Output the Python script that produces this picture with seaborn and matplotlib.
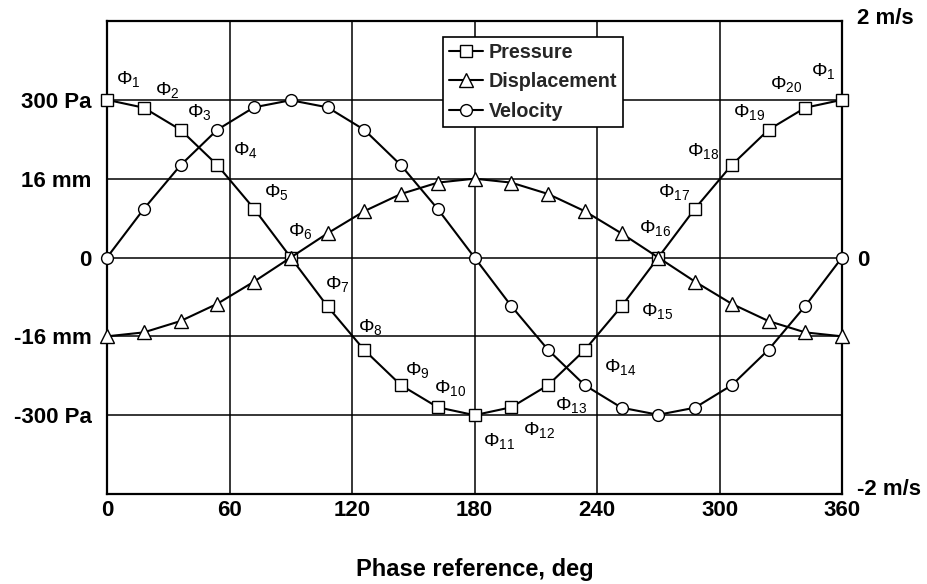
import matplotlib
matplotlib.use("Agg")
import matplotlib.pyplot as plt
import matplotlib.transforms as mtransforms
import pandas as pd
import seaborn as sns

# Phase angle of each sample point (deg)
phase_deg = [0, 18, 36, 54, 72, 90, 108, 126, 144, 162, 180,
             198, 216, 234, 252, 270, 288, 306, 324, 342, 360]

# Acoustic pressure (Pa)
pressure_pa = [300, 285, 243, 176, 93, 0, -93, -176, -243, -285, -300,
               -285, -243, -176, -93, 0, 93, 176, 243, 285, 300]

# Gas displacement (mm)
displacement_mm = [-16, -15.2, -12.9, -9.4, -4.9, 0, 4.9, 9.4, 12.9, 15.2, 16,
                   15.2, 12.9, 9.4, 4.9, 0, -4.9, -9.4, -12.9, -15.2, -16]

# Gas velocity (m/s)
velocity_ms = [0, 0.41, 0.78, 1.08, 1.27, 1.33, 1.27, 1.08, 0.78, 0.41, 0,
               -0.41, -0.78, -1.08, -1.27, -1.33, -1.27, -1.08, -0.78, -0.41, 0]

# One grid division in each physical unit
PA_PER_DIV = 150.0
MM_PER_DIV = 16.0
MS_PER_DIV = 2.0 / 3.0

left_tick_divs = [2, 1, 0, -1, -2]
left_tick_labels = ["300 Pa", "16 mm", "0", "-16 mm", "-300 Pa"]
right_tick_divs = [3, 0, -3]
right_tick_labels = ["2 m/s", "0", "-2 m/s"]
x_ticks = [0, 60, 120, 180, 240, 300, 360]

# Phase-point annotations: (text, x in deg, y in divisions)
phi_labels = [
    ("1", 4.4, 2.27), ("2", 23.5, 2.13), ("3", 39.2, 1.85), ("4", 61.7, 1.36),
    ("5", 76.9, 0.83), ("6", 88.6, 0.33), ("7", 106.8, -0.34), ("8", 122.9, -0.88),
    ("9", 145.9, -1.43), ("10", 160.2, -1.66), ("11", 184.2, -2.33),
    ("12", 203.8, -2.19), ("13", 219.4, -1.87), ("14", 243.4, -1.39),
    ("15", 261.5, -0.68), ("16", 260.6, 0.38), ("17", 269.9, 0.83),
    ("18", 284.1, 1.35), ("19", 306.6, 1.85), ("20", 324.8, 2.20), ("1", 344.8, 2.37),
]

sns.set_theme(style="white")
plt.rcParams["font.family"] = ["Liberation Sans", "DejaVu Sans"]
plt.rcParams["mathtext.fontset"] = "custom"
plt.rcParams["mathtext.rm"] = "Liberation Sans"
plt.rcParams["mathtext.it"] = "Liberation Sans"
plt.rcParams["mathtext.bf"] = "Liberation Sans:bold"

df = pd.DataFrame({
    "phase": phase_deg * 3,
    "value": [p / PA_PER_DIV for p in pressure_pa]
             + [d / MM_PER_DIV for d in displacement_mm]
             + [v / MS_PER_DIV for v in velocity_ms],
    "series": ["Pressure"] * len(phase_deg)
              + ["Displacement"] * len(phase_deg)
              + ["Velocity"] * len(phase_deg),
})

fig = plt.figure(figsize=(9.27, 5.84), dpi=100)
ax = fig.add_axes([107 / 927, 1 - 494 / 584, 735 / 927, 473 / 584])

marker_style = {"Pressure": ("s", 8.3), "Displacement": ("^", 10), "Velocity": ("o", 8.5)}
for name, (mk, ms) in marker_style.items():
    sub = df[df["series"] == name]
    sns.lineplot(data=sub, x="phase", y="value", ax=ax, color="black",
                 linewidth=1.5, marker=mk, markersize=ms,
                 markerfacecolor="white", markeredgecolor="black",
                 markeredgewidth=1.0, label=name, clip_on=False, zorder=3)

ax.set_xlim(0, 360)
ax.set_ylim(-3, 3)
ax.set_xticks(x_ticks)
ax.set_xticklabels([str(t) for t in x_ticks])
ax.set_yticks(left_tick_divs)
ax.set_yticklabels(left_tick_labels)
ax.grid(True, color="black", linewidth=1.1)
ax.set_axisbelow(True)
for sp in ax.spines.values():
    sp.set_color("black")
    sp.set_linewidth(1.6)
ax.tick_params(axis="both", length=0, labelsize=16, colors="black")
ax.tick_params(axis="x", pad=4)
ax.tick_params(axis="y", pad=11)
for lbl in ax.get_xticklabels() + ax.get_yticklabels():
    lbl.set_fontweight("bold")

ax.set_xlabel("Phase reference, deg", fontsize=17, fontweight="bold", color="black")
ax.xaxis.set_label_coords(0.5, -0.135)
ax.set_ylabel("")

# Right-hand velocity scale
ax2 = ax.twinx()
ax2.set_ylim(-3, 3)
ax2.set_yticks(right_tick_divs)
ax2.set_yticklabels(right_tick_labels)
ax2.tick_params(axis="y", length=0, labelsize=16, pad=11, colors="black")
for sp in ax2.spines.values():
    sp.set_visible(False)
ax2.grid(False)
shifts = {"2 m/s": 5, "0": 0, "-2 m/s": 7}
for lbl in ax2.get_yticklabels():
    lbl.set_fontweight("bold")
    dy = shifts.get(lbl.get_text(), 0)
    lbl.set_transform(lbl.get_transform()
                      + mtransforms.ScaledTranslation(0, dy / 100, fig.dpi_scale_trans))

for txt, xd, yd in phi_labels:
    ax.text(xd, yd, r"$\Phi_{%s}$" % txt, fontsize=14, ha="left", va="center",
            color="black", zorder=4)

handles, labels = ax.get_legend_handles_labels()
if ax.legend_:
    ax.legend_.remove()
leg = ax2.legend(handles, labels, loc="upper left",
                 bbox_to_anchor=((443 - 107) / 735, (494 - 37) / 473),
                 borderaxespad=0, frameon=True, fancybox=False,
                 prop={"weight": "bold", "size": 14.2},
                 handlelength=1.75, handletextpad=0.3, labelspacing=0.55,
                 borderpad=0.28)
leg.get_frame().set_edgecolor("black")
leg.get_frame().set_linewidth(1.2)
leg.get_frame().set_facecolor("white")
leg.get_frame().set_alpha(1)

fig.savefig("out.png", dpi=100)
